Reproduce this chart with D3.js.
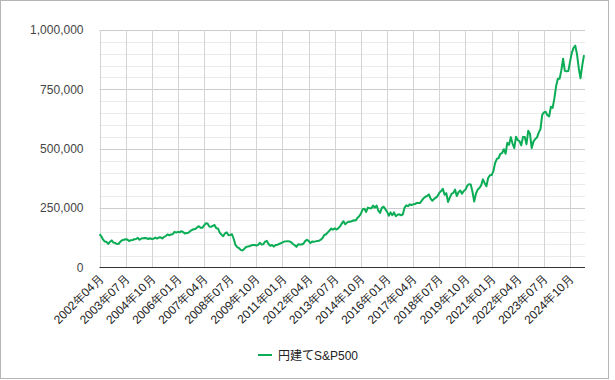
<!DOCTYPE html>
<html>
<head>
<meta charset="utf-8">
<script src="https://cdn.jsdelivr.net/npm/d3@7"></script>
<style>
  body { margin: 0; background: #fff; }
  svg { display: block; font-family: Arial, "Liberation Sans", "Noto Sans CJK JP", sans-serif; }
</style>
</head>
<body>
<svg id="chart" width="615" height="380"></svg>
<script>
// 円建てS&P500 monthly values (yen), 2002年04月 .. 2025年06月
const v2002 = [140000, 132000, 118000, 109000, 108000, 99000, 108000, 114000, 105000];
const v2003 = [103000, 99000, 100000, 109000, 115000, 117000, 119000, 118000, 111000, 115000, 116000, 119000];
const v2004 = [120000, 125000, 117000, 122000, 123000, 124000, 123000, 120000, 123000, 120000, 121000, 126000];
const v2005 = [122000, 126000, 127000, 122000, 129000, 132000, 139000, 136000, 139000, 140000, 150000, 147000];
const v2006 = [150000, 148000, 153000, 149000, 143000, 145000, 146000, 153000, 158000, 161000, 162000, 169000];
const v2007 = [174000, 167000, 167000, 177000, 186000, 185000, 173000, 171000, 175000, 179000, 165000, 164000];
const v2008 = [147000, 138000, 132000, 144000, 148000, 136000, 137000, 140000, 121000, 95000, 86000, 82000];
const v2009 = [74000, 72000, 78000, 86000, 88000, 89000, 93000, 95000, 95000, 93000, 95000, 104000];
const v2010 = [97000, 98000, 109000, 112000, 99000, 91000, 95000, 88000, 95000, 95000, 99000, 102000];
const v2011 = [106000, 109000, 110000, 111000, 110000, 106000, 99000, 94000, 87000, 98000, 97000, 97000];
const v2012 = [100000, 111000, 117000, 112000, 103000, 109000, 108000, 110000, 112000, 113000, 117000, 124000];
const v2013 = [137000, 140000, 148000, 156000, 164000, 159000, 165000, 160000, 165000, 173000, 185000, 195000];
const v2014 = [182000, 189000, 193000, 193000, 196000, 199000, 198000, 209000, 216000, 227000, 245000, 247000];
const v2015 = [234000, 252000, 249000, 249000, 261000, 252000, 261000, 239000, 230000, 251000, 256000, 246000];
const v2016 = [235000, 218000, 232000, 220000, 232000, 216000, 222000, 224000, 220000, 223000, 251000, 262000];
const v2017 = [258000, 266000, 263000, 266000, 267000, 272000, 272000, 272000, 283000, 292000, 298000, 301000];
const v2018 = [308000, 290000, 281000, 289000, 294000, 301000, 315000, 322000, 331000, 306000, 313000, 276000];
const v2019 = [294000, 310000, 314000, 328000, 301000, 317000, 324000, 311000, 322000, 328000, 344000, 351000];
const v2020 = [350000, 319000, 278000, 311000, 328000, 335000, 346000, 371000, 355000, 342000, 377000, 388000];
const v2021 = [389000, 406000, 440000, 457000, 461000, 478000, 482000, 498000, 479000, 525000, 517000, 549000];
const v2022 = [522000, 503000, 551000, 536000, 532000, 514000, 550000, 549000, 519000, 576000, 563000, 503000];
const v2023 = [530000, 541000, 547000, 568000, 582000, 642000, 653000, 656000, 641000, 636000, 677000, 672000];
const v2024 = [712000, 764000, 795000, 795000, 830000, 879000, 828000, 826000, 827000, 867000, 904000, 925000];
const v2025 = [934000, 897000, 839000, 797000, 851000, 894000];

const values = [].concat(v2002, v2003, v2004, v2005, v2006, v2007, v2008, v2009, v2010, v2011,
  v2012, v2013, v2014, v2015, v2016, v2017, v2018, v2019, v2020, v2021, v2022, v2023, v2024, v2025);

const startMonth = new Date(2002, 3, 1);
const months = values.map((_, i) => d3.timeMonth.offset(startMonth, i));
const formatLabel = d3.timeFormat("%Y年%m月");

const xTickLabels = ["2002年04月", "2003年07月", "2004年10月", "2006年01月", "2007年04月", "2008年07月",
  "2009年10月", "2011年01月", "2012年04月", "2013年07月", "2014年10月", "2016年01月", "2017年04月",
  "2018年07月", "2019年10月", "2021年01月", "2022年04月", "2023年07月", "2024年10月"];
const yTicks = [0, 250000, 500000, 750000, 1000000];
const yMinor = d3.range(0, 1000001, 50000);
const seriesName = "円建てS&P500";

const svg = d3.select("#chart");
const plot = { left: 99.5, right: 585, top: 30, bottom: 267.5 };
const lineColor = "#0aad55";

const xScale = d3.scaleLinear().domain([0, values.length - 1]).range([plot.left, 584]);
const yScale = d3.scaleLinear().domain([0, 1000000]).range([plot.bottom, plot.top]);

const labelIndex = xTickLabels.map(l => months.findIndex(m => formatLabel(m) === l));

// outer frame
svg.append("rect")
  .attr("x", 0.5).attr("y", 0.5)
  .attr("width", 608).attr("height", 378)
  .attr("fill", "none").attr("stroke", "#b5b5b5");

// grid
const grid = svg.append("g");
grid.selectAll(".minor")
  .data(yMinor.filter(v => !yTicks.includes(v)))
  .join("line")
  .attr("x1", plot.left).attr("x2", plot.right)
  .attr("y1", d => Math.round(yScale(d)) + 0.5).attr("y2", d => Math.round(yScale(d)) + 0.5)
  .attr("stroke", "#ebebeb");
grid.selectAll(".major")
  .data(yTicks.filter(v => v > 0))
  .join("line")
  .attr("x1", plot.left).attr("x2", plot.right)
  .attr("y1", d => Math.round(yScale(d)) + 0.5).attr("y2", d => Math.round(yScale(d)) + 0.5)
  .attr("stroke", "#cccccc");
grid.selectAll(".vert")
  .data(labelIndex)
  .join("line")
  .attr("x1", d => Math.round(xScale(d)) + 0.5).attr("x2", d => Math.round(xScale(d)) + 0.5)
  .attr("y1", plot.top).attr("y2", plot.bottom)
  .attr("stroke", "#d4d4d4");

// y axis
const yAxis = svg.append("g")
  .attr("transform", `translate(${plot.left},0)`)
  .call(d3.axisLeft(yScale).tickValues(yTicks).tickFormat(d3.format(",")).tickSize(0).tickPadding(16));
yAxis.select(".domain").remove();
yAxis.selectAll("text").attr("fill", "#444").style("font-size", "12px");

// x axis
const xAxis = svg.append("g")
  .attr("transform", `translate(0,${plot.bottom})`)
  .call(d3.axisBottom(xScale).tickValues(labelIndex).tickFormat((d, i) => xTickLabels[i]).tickSize(0));
xAxis.select(".domain").remove();
xAxis.selectAll("text")
  .attr("fill", "#222")
  .style("font-size", "12px")
  .attr("text-anchor", "end")
  .attr("y", 0)
  .attr("dy", 0)
  .attr("transform", "translate(4,12) rotate(-45)");

// line
svg.append("path")
  .datum(values)
  .attr("fill", "none")
  .attr("stroke", lineColor)
  .attr("stroke-width", 2)
  .attr("stroke-linejoin", "round")
  .attr("d", d3.line().x((d, i) => xScale(i)).y(d => yScale(d)));

// baseline
svg.append("line")
  .attr("x1", plot.left).attr("x2", plot.right)
  .attr("y1", plot.bottom).attr("y2", plot.bottom)
  .attr("stroke", "#333");

// legend
const legend = svg.append("g").attr("transform", "translate(258,355)");
legend.append("line").attr("x1", 0).attr("x2", 14).attr("stroke", lineColor).attr("stroke-width", 2);
legend.append("text").attr("x", 20).attr("y", 4.5)
  .attr("fill", "#222").style("font-size", "12px").text(seriesName);
</script>
</body>
</html>
